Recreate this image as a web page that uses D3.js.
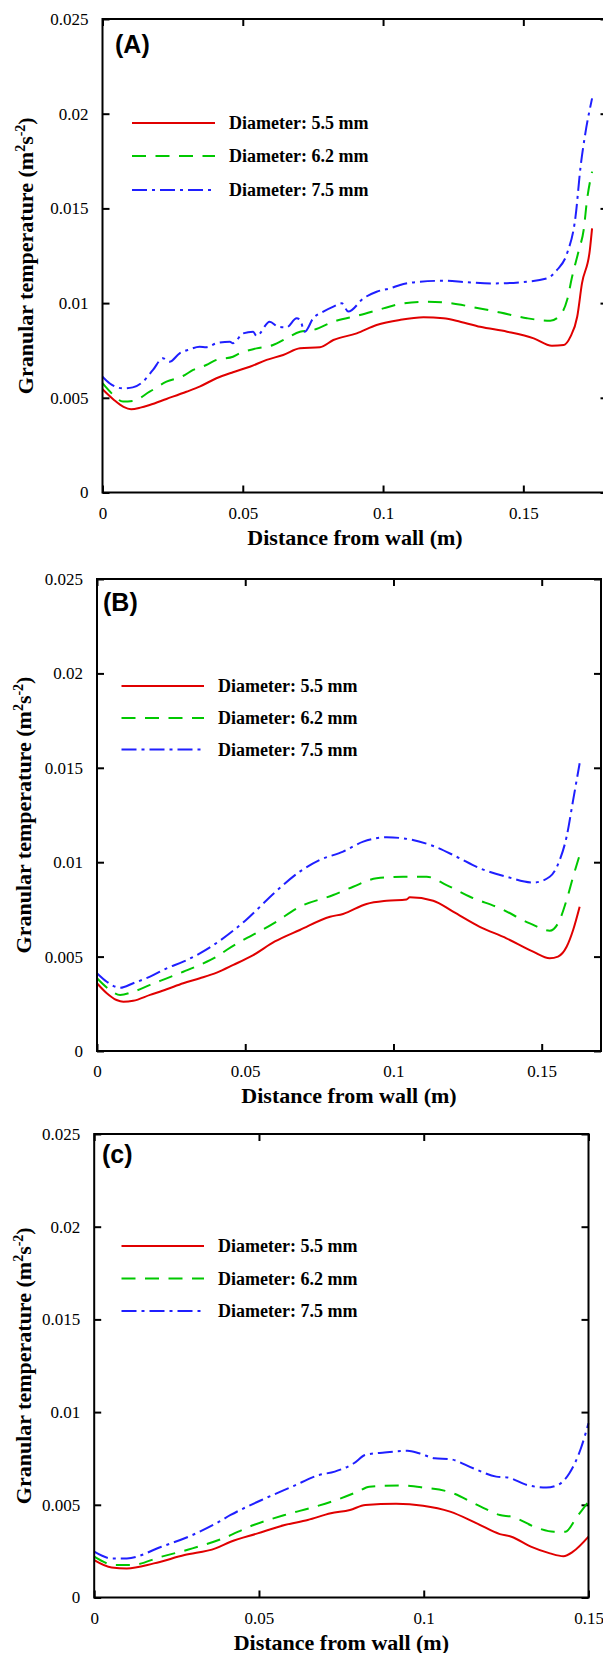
<!DOCTYPE html>
<html>
<head>
<meta charset="utf-8">
<script src="https://cdn.jsdelivr.net/npm/d3@7"></script>
<style>
body { margin: 0; background: #fff; }
svg { display: block; }
</style>
</head>
<body>
<svg id="fig" width="603" height="1653"></svg>
<script>
// tick values / labels
var xTickVals = [0, 0.05, 0.1, 0.15];
var xTickLabels = ["0", "0.05", "0.1", "0.15"];
var yTickVals = [0, 0.005, 0.01, 0.015, 0.02, 0.025];
var yTickLabels = ["0", "0.005", "0.01", "0.015", "0.02", "0.025"];
var seriesNames = ["Diameter: 5.5 mm", "Diameter: 6.2 mm", "Diameter: 7.5 mm"];
var panelLabels = ["(A)", "(B)", "(c)"];
var xMax = [0.18, 0.17, 0.15];
var yMax = 0.025;

// panel A  [distance (m), granular temperature (m2/s2)]
var A_d55 = [[0,0.00545],[0.004,0.0049],[0.0075,0.00452],[0.0102,0.0044],[0.0135,0.00448],[0.0168,0.00462],[0.0228,0.00494],[0.0299,0.00532],[0.0346,0.00559],[0.0406,0.00603],[0.0465,0.00635],[0.0525,0.00664],[0.0585,0.007],[0.0644,0.00726],[0.0704,0.00761],[0.0775,0.00767],[0.0823,0.00805],[0.0906,0.0084],[0.0977,0.00884],[0.106,0.00911],[0.1144,0.00925],[0.1215,0.0092],[0.1275,0.00902],[0.1346,0.00875],[0.1442,0.00849],[0.1537,0.00814],[0.1602,0.00775],[0.1644,0.00779],[0.1668,0.00823],[0.1692,0.00928],[0.1709,0.01104],[0.1737,0.0128],[0.1745,0.01395]];
var A_d62 = [[0,0.00577],[0.0035,0.0052],[0.0073,0.0048],[0.0108,0.00483],[0.0168,0.00532],[0.0228,0.00585],[0.0287,0.00615],[0.0323,0.00647],[0.037,0.00673],[0.0406,0.007],[0.0465,0.00717],[0.0489,0.00735],[0.0549,0.00761],[0.0608,0.00779],[0.0656,0.00814],[0.0704,0.00849],[0.0751,0.00858],[0.0823,0.00902],[0.0918,0.00937],[0.1001,0.00972],[0.1073,0.00999],[0.1156,0.01007],[0.1227,0.01002],[0.1323,0.00978],[0.1418,0.0095],[0.1513,0.0092],[0.1596,0.00907],[0.1632,0.00937],[0.1656,0.01016],[0.1674,0.0114],[0.1698,0.0128],[0.1715,0.01386],[0.1727,0.01544],[0.1745,0.01694]];
var A_d75 = [[0,0.00611],[0.0025,0.00577],[0.0073,0.0055],[0.0108,0.00555],[0.0144,0.00585],[0.018,0.00647],[0.0215,0.00709],[0.0239,0.0069],[0.0275,0.00735],[0.0311,0.00756],[0.0346,0.0077],[0.037,0.00767],[0.0406,0.00788],[0.0454,0.00796],[0.0465,0.00788],[0.0501,0.0084],[0.0537,0.00849],[0.0549,0.00826],[0.0596,0.00902],[0.0626,0.00875],[0.0656,0.00872],[0.0692,0.0092],[0.0704,0.00911],[0.0721,0.00849],[0.0751,0.0092],[0.0787,0.00955],[0.0823,0.00981],[0.0853,0.00999],[0.0876,0.00955],[0.093,0.01025],[0.0977,0.0106],[0.1025,0.01078],[0.1061,0.01096],[0.1132,0.01113],[0.1215,0.01118],[0.1299,0.0111],[0.1394,0.01104],[0.1489,0.0111],[0.1585,0.01131],[0.162,0.01175],[0.1656,0.01263],[0.1686,0.01456],[0.1704,0.0172],[0.1721,0.01896],[0.1745,0.02081]];

// panel B
var B_d55 = [[0,0.00359],[0.0033,0.00306],[0.0066,0.0027],[0.0089,0.00261],[0.0122,0.00266],[0.0179,0.00297],[0.0235,0.00327],[0.0291,0.00359],[0.0347,0.00385],[0.0404,0.00415],[0.046,0.00456],[0.0527,0.00508],[0.06,0.0058],[0.0684,0.00641],[0.0786,0.00711],[0.083,0.00726],[0.0909,0.00779],[0.0977,0.00796],[0.1044,0.00803],[0.1055,0.00814],[0.1134,0.00796],[0.1201,0.00738],[0.1291,0.00658],[0.1381,0.00597],[0.1471,0.00526],[0.1527,0.00491],[0.1555,0.005],[0.1584,0.00552],[0.1606,0.00641],[0.1628,0.00764]];
var B_d62 = [[0,0.00385],[0.0044,0.00323],[0.0078,0.00297],[0.0122,0.00314],[0.0179,0.0035],[0.0235,0.00385],[0.0291,0.0042],[0.0347,0.00456],[0.0404,0.005],[0.0437,0.00535],[0.06,0.0068],[0.0684,0.00764],[0.0797,0.00826],[0.0864,0.0087],[0.0943,0.00915],[0.1033,0.00923],[0.1112,0.00923],[0.1179,0.00879],[0.1258,0.00817],[0.1359,0.00756],[0.146,0.00676],[0.1527,0.00637],[0.1555,0.00676],[0.1584,0.008],[0.1606,0.00923],[0.1628,0.01038]];
var B_d75 = [[0,0.00412],[0.0033,0.00367],[0.0078,0.00335],[0.0122,0.00359],[0.0179,0.00394],[0.0235,0.00438],[0.0291,0.00473],[0.0347,0.00517],[0.05,0.0069],[0.06,0.0084],[0.0684,0.0095],[0.0752,0.01012],[0.083,0.01056],[0.0898,0.01109],[0.0977,0.01132],[0.1055,0.01121],[0.1134,0.01086],[0.1213,0.01029],[0.1291,0.00968],[0.1381,0.00923],[0.1471,0.00892],[0.1527,0.00923],[0.1561,0.01012],[0.1584,0.01135],[0.1606,0.01329],[0.1628,0.01524]];

// panel C
var C_d55 = [[0,0.00202],[0.0053,0.00162],[0.0099,0.00157],[0.0181,0.00184],[0.0274,0.00229],[0.0368,0.00265],[0.0414,0.00301],[0.0496,0.00346],[0.0578,0.00391],[0.0648,0.00418],[0.0718,0.00454],[0.0776,0.00472],[0.0823,0.00499],[0.0916,0.00505],[0.0998,0.00495],[0.108,0.00463],[0.1161,0.004],[0.1231,0.00342],[0.1266,0.00328],[0.1325,0.00274],[0.1383,0.00238],[0.1424,0.00223],[0.1453,0.00247],[0.15,0.00328]];
var C_d62 = [[0,0.0022],[0.0064,0.00175],[0.0111,0.00175],[0.0204,0.0022],[0.0298,0.00265],[0.0391,0.00319],[0.0484,0.00391],[0.0578,0.00445],[0.0671,0.0049],[0.0741,0.0053],[0.08,0.00571],[0.0835,0.00598],[0.0928,0.00604],[0.0998,0.00593],[0.108,0.00568],[0.1173,0.0049],[0.1231,0.00445],[0.1266,0.00436],[0.1348,0.00373],[0.1395,0.00355],[0.143,0.00355],[0.1465,0.00436],[0.15,0.00517]];
var C_d75 = [[0,0.00247],[0.0053,0.00211],[0.0099,0.00211],[0.0204,0.00274],[0.0298,0.00337],[0.0379,0.00409],[0.0414,0.00445],[0.0508,0.00526],[0.0601,0.00598],[0.0683,0.00661],[0.073,0.00679],[0.0788,0.00724],[0.0823,0.00769],[0.0881,0.00782],[0.0951,0.00791],[0.0986,0.00778],[0.1033,0.00751],[0.108,0.00746],[0.115,0.00697],[0.122,0.00652],[0.1255,0.00647],[0.1313,0.00607],[0.1372,0.00593],[0.1407,0.00607],[0.1442,0.0067],[0.1477,0.00805],[0.15,0.0094]];

var panelSeries = [[A_d55, A_d62, A_d75], [B_d55, B_d62, B_d75], [C_d55, C_d62, C_d75]];

// line styles for the three diameters
var lineColors = ["#e00000", "#00c800", "#1f1fff"];
var lineDash = [null, "14,9.5", "15,5,3,5"];

var serif = "Liberation Serif, Times New Roman, serif";

// layout of each panel (pixels)
var boxes = [
    {left: 102.5, right: 607.5, top: 19, bottom: 492.5, titleX: 33, labX: 115, labY: 53, legX: [132, 215, 229], legY: [123, 156, 190]},
    {left: 97, right: 601, top: 579, bottom: 1051, titleX: 31, labX: 103, labY: 611, legX: [121.5, 204, 218], legY: [686, 718, 749.5]},
    {left: 94.2, right: 588.5, top: 1134, bottom: 1597.5, titleX: 31, labX: 102, labY: 1163, legX: [121.5, 204, 218], legY: [1246, 1278.5, 1311]}
];

var svg = d3.select("#fig");

function styleAxis(sel) {
    sel.selectAll(".domain").remove();
    sel.selectAll(".tick line").attr("stroke", "#000").attr("stroke-width", 2);
    sel.selectAll(".tick text")
        .attr("font-family", serif)
        .attr("font-size", 17)
        .attr("fill", "#000");
}

function drawPanel(p) {
    var box = boxes[p];
    var g = svg.append("g").attr("class", "panel" + p);

    var x = d3.scaleLinear().domain([0, xMax[p]]).range([box.left, box.right]);
    var y = d3.scaleLinear().domain([0, yMax]).range([box.bottom, box.top]);

    // axes, ticks pointing inward
    g.append("g")
        .attr("transform", "translate(" + box.left + ",0)")
        .call(d3.axisLeft(y).tickValues(yTickVals).tickFormat(function(d, i) { return yTickLabels[i]; })
            .tickSizeInner(-7).tickSizeOuter(0).tickPadding(14))
        .call(styleAxis);
    g.append("g")
        .attr("transform", "translate(" + box.right + ",0)")
        .call(d3.axisRight(y).tickValues(yTickVals).tickFormat("").tickSizeInner(-7).tickSizeOuter(0))
        .call(styleAxis);
    g.append("g")
        .attr("transform", "translate(0," + box.bottom + ")")
        .call(d3.axisBottom(x).tickValues(xTickVals).tickFormat(function(d, i) { return xTickLabels[i]; })
            .tickSizeInner(-7).tickSizeOuter(0).tickPadding(14))
        .call(styleAxis);
    g.append("g")
        .attr("transform", "translate(0," + box.top + ")")
        .call(d3.axisTop(x).tickValues(xTickVals).tickFormat("").tickSizeInner(-7).tickSizeOuter(0))
        .call(styleAxis);

    // curves
    var line = d3.line()
        .x(function(d) { return x(d[0]); })
        .y(function(d) { return y(d[1]); })
        .curve(d3.curveMonotoneX);

    panelSeries[p].forEach(function(s, i) {
        g.append("path")
            .attr("d", line(s))
            .attr("fill", "none")
            .attr("stroke", lineColors[i])
            .attr("stroke-width", 2)
            .attr("stroke-dasharray", lineDash[i]);
    });

    // frame
    g.append("rect")
        .attr("x", box.left).attr("y", box.top)
        .attr("width", box.right - box.left).attr("height", box.bottom - box.top)
        .attr("fill", "none").attr("stroke", "#000").attr("stroke-width", 2);

    // legend
    seriesNames.forEach(function(name, i) {
        g.append("line")
            .attr("x1", box.legX[0]).attr("x2", box.legX[1])
            .attr("y1", box.legY[i]).attr("y2", box.legY[i])
            .attr("stroke", lineColors[i]).attr("stroke-width", 2)
            .attr("stroke-dasharray", lineDash[i]);
        g.append("text")
            .attr("x", box.legX[2]).attr("y", box.legY[i] + 6)
            .attr("font-family", serif)
            .attr("font-weight", "bold").attr("font-size", 18)
            .text(name);
    });

    // panel letter
    g.append("text")
        .attr("x", box.labX).attr("y", box.labY)
        .attr("font-family", "Liberation Sans, Arial, sans-serif")
        .attr("font-weight", "bold").attr("font-size", 25)
        .text(panelLabels[p]);

    // axis titles
    g.append("text")
        .attr("x", (box.left + box.right) / 2).attr("y", box.bottom + 52)
        .attr("text-anchor", "middle")
        .attr("font-family", serif)
        .attr("font-weight", "bold").attr("font-size", 22)
        .text("Distance from wall (m)");

    var yt = g.append("text")
        .attr("text-anchor", "middle")
        .attr("transform", "translate(" + box.titleX + "," + ((box.top + box.bottom) / 2) + ")rotate(-90)")
        .attr("font-family", serif)
        .attr("font-weight", "bold").attr("font-size", 22);
    yt.append("tspan").text("Granular temperature (m");
    yt.append("tspan").attr("dy", -8).attr("font-size", 14).text("2");
    yt.append("tspan").attr("dy", 8).text("s");
    yt.append("tspan").attr("dy", -8).attr("font-size", 14).text("-2");
    yt.append("tspan").attr("dy", 8).text(")");
}

for (var p = 0; p < 3; p++) {
    drawPanel(p);
}
</script>
</body>
</html>
